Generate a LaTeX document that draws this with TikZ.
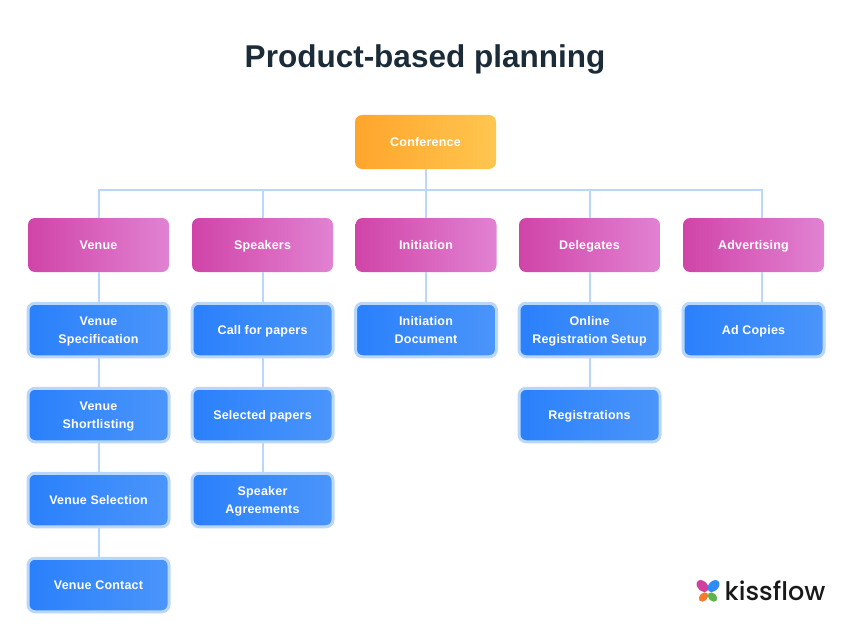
\documentclass[tikz,border=0pt]{standalone}
\usepackage{xcolor}
\usepackage{fontspec}
\setmainfont{Liberation Sans}
\newfontfamily\labelfont[LetterSpace=1.6]{Liberation Sans}
\newfontfamily\logofont{Poppins Medium}
\usetikzlibrary{positioning,calc}
\definecolor{linkblue}{HTML}{B9D7FA}
\definecolor{titleink}{HTML}{1B2B38}
\definecolor{rootl}{HTML}{FFA52C}
\definecolor{rootr}{HTML}{FFC64F}
\definecolor{groupl}{HTML}{D044A8}
\definecolor{groupr}{HTML}{E182D2}
\definecolor{iteml}{HTML}{2A80FB}
\definecolor{itemr}{HTML}{4B95FB}
\definecolor{petalpink}{HTML}{D2409F}
\definecolor{petalblue}{HTML}{2F8BF5}
\definecolor{petalorange}{HTML}{F47B30}
\definecolor{petalgreen}{HTML}{5BB44A}
\newcommand{\lstrut}{\rule[-4.4pt]{0pt}{18pt}}
\tikzset{
  box/.style={rounded corners=7pt, minimum width=141pt, minimum height=54pt, align=center, text=white,
    font=\labelfont\fontsize{12.5}{18}\selectfont\bfseries, execute at begin node=\lstrut, execute at end node=\lstrut},
  rootbox/.style={box, left color=rootl, right color=rootr},
  groupbox/.style={box, left color=groupl, right color=groupr},
  itembox/.style={box, minimum height=53.5pt, left color=iteml, right color=itemr, draw=linkblue, line width=3pt},
  link/.style={draw=linkblue, line width=2pt},
}
\begin{document}
\begin{tikzpicture}[x=1pt,y=-1pt]
\useasboundingbox (0,0) rectangle (850,631);
% Title
\node[font=\fontsize{31.5}{38}\selectfont\bfseries, text=titleink] (title) at (425,59.5) {Product-based planning};

% Root
\node[rootbox] (conf) at (425.5,142) {Conference};
\coordinate (bus) at (425.5,190);

% Groups
\node[groupbox] (venue) at (98.5,245) {Venue};
\node[groupbox] (speakers) at (262.5,245) {Speakers};
\node[groupbox] (init) at (426,245) {Initiation};
\node[groupbox] (delegates) at (589.5,245) {Delegates};
\node[groupbox] (advert) at (753.5,245) {Advertising};

% Venue column
\node[itembox] (spec) at (98.5,330) {\lstrut Venue\\Specification};
\node[itembox] (short) at (98.5,415) {\lstrut Venue\\Shortlisting};
\node[itembox] (select) at (98.5,500) {Venue Selection};
\node[itembox] (contact) at (98.5,585) {Venue Contact};

% Speakers column
\node[itembox] (call) at (262.5,330) {Call for papers};
\node[itembox] (papers) at (262.5,415) {Selected papers};
\node[itembox] (agree) at (262.5,500) {\lstrut Speaker\\Agreements};

% Other columns
\node[itembox] (doc) at (426,330) {\lstrut Initiation\\Document};
\node[itembox] (online) at (589.5,330) {\lstrut Online\\Registration Setup};
\node[itembox] (regs) at (589.5,415) {Registrations};
\node[itembox] (copies) at (753.5,330) {Ad Copies};

% Links
\coordinate (advtop) at ($(advert.north)+(8,0)$);
\coordinate (advbot) at ($(advert.south)+(8,0)$);
\coordinate (copytop) at ($(copies.north)+(8,0)$);
\draw[link] (conf) -- (bus);
\foreach \g in {venue,speakers,init,delegates}
  \draw[link] (\g.north) |- (bus);
\draw[link] (advtop) |- (bus);
\draw[link] (advbot) -- (copytop);
\foreach \a/\b in {venue/spec,spec/short,short/select,select/contact,speakers/call,call/papers,papers/agree,init/doc,delegates/online,online/regs}
  \draw[link] (\a) -- (\b);

% Logo
\fill[rotate around={-45:(702.5,586)}, fill=petalpink] (702.5,586) ellipse (6.8pt and 4.8pt);
\fill[rotate around={45:(713.5,586)}, fill=petalblue] (713.5,586) ellipse (6.8pt and 4.8pt);
\fill[rotate around={45:(703.5,597)}, fill=petalorange] (703.5,597) ellipse (5.4pt and 3.9pt);
\fill[rotate around={-45:(712.5,597)}, fill=petalgreen] (712.5,597) ellipse (5.4pt and 3.9pt);
\node[font=\logofont\fontsize{25.5}{30}\selectfont, text=black!90, anchor=west, inner sep=0pt] (logo) at (724.5,590.5) {kissflow};
\end{tikzpicture}
\end{document}
